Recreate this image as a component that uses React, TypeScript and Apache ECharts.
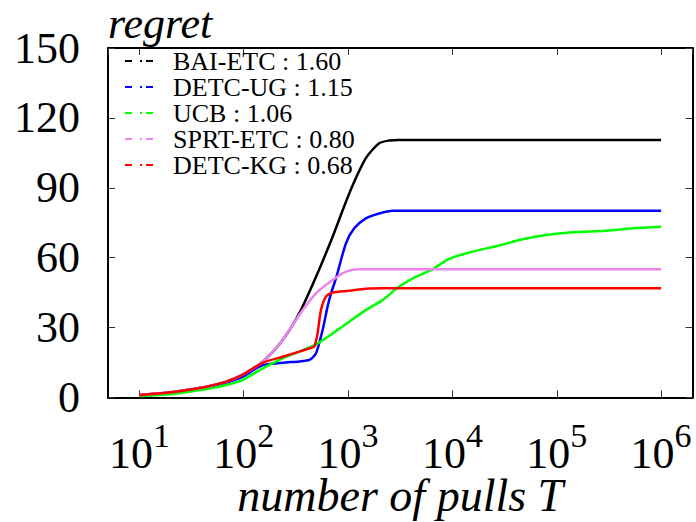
import React, { useEffect, useRef } from 'react';
import * as echarts from 'echarts';

const FONT = "'Liberation Serif', 'Times New Roman', serif";

const seriesNames = ['BAI-ETC : 1.60', 'DETC-UG : 1.15', 'UCB : 1.06', 'SPRT-ETC : 0.80', 'DETC-KG : 0.68'];
const seriesColors = ['#000000', '#0000ff', '#00ff00', '#ee82ee', '#ff0000'];

// BAI-ETC
const baiT = [10, 18, 28, 44, 68, 97, 152, 236, 341, 493, 711, 1026, 1480, 1985, 2477, 3000, 1000000];
const baiY = [1.1, 2.0, 3.2, 4.6, 6.8, 9.7, 15.4, 24.7, 36.2, 51.8, 69.0, 87.6, 102.7, 109.1, 110.3, 110.5, 110.5];

// DETC-UG
const ugT = [10, 18, 28, 44, 68, 97, 152, 236, 341, 425, 493, 570, 636, 690, 765, 955, 1145, 1480, 1985, 2670, 1000000];
const ugY = [1.0, 1.8, 2.9, 4.3, 6.4, 8.9, 13.9, 14.9, 15.5, 16.1, 19.0, 29.0, 39.0, 45.0, 51.1, 66.2, 72.6, 76.9, 79.0, 80.2, 80.2];

// UCB
const ucbT = [10, 18, 28, 44, 68, 97, 152, 236, 341, 493, 711, 1026, 1480, 2140, 3090, 4460, 6440, 9310, 15500, 28000, 47000, 79000, 142000, 295000, 535000, 1000000];
const ucbY = [0.6, 1.3, 2.3, 3.6, 5.4, 7.5, 12.5, 16.8, 19.7, 22.8, 27.5, 32.5, 37.6, 41.8, 47.6, 51.8, 55.0, 59.5, 62.6, 65.2, 67.9, 69.7, 70.9, 71.6, 72.6, 73.3];

// SPRT-ETC
const sprtT = [10, 18, 28, 44, 68, 97, 152, 236, 341, 493, 711, 955, 1280, 1000000];
const sprtY = [1.1, 2.0, 3.2, 4.6, 6.8, 9.7, 15.4, 24.7, 35.5, 44.7, 50.4, 54.0, 55.0, 55.0];

// DETC-KG
const kgT = [10, 18, 28, 44, 68, 97, 152, 236, 341, 457, 475, 510, 550, 614, 711, 1026, 1480, 2140, 1000000];
const kgY = [1.0, 2.0, 3.1, 4.6, 6.8, 9.7, 14.9, 17.5, 19.7, 21.5, 21.8, 27.5, 37.6, 43.3, 45.0, 45.8, 46.7, 46.9, 46.9];

const seriesT = [baiT, ugT, ucbT, sprtT, kgT];
const seriesY = [baiY, ugY, ucbY, sprtY, kgY];

const xMin = 5;
const xMax = 2000000;
const yMin = 0;
const yMax = 150;
const yStep = 30;

const xTitle = 'number of pulls T';
const yTitle = 'regret';

// dash-dot legend sample: dash, dot, dash
const legendIcon = 'path://M0,0h7v2h-7z M15,0h2v2h-2z M21,0h7v2h-7z';

export default function App() {
  const ref = useRef<HTMLDivElement>(null);

  useEffect(() => {
    const chart = echarts.init(ref.current as HTMLDivElement, null, { renderer: 'svg' });

    const axisLine = { show: true, onZero: false, lineStyle: { color: '#000', width: 2 } };
    const axisTick = { show: true, inside: true, length: 7, lineStyle: { color: '#333', width: 1 } };

    const xBase = {
      type: 'log' as const,
      logBase: 10,
      min: xMin,
      max: xMax,
      axisLine,
      axisTick,
      splitLine: { show: false },
      minorTick: { show: false },
    };
    const yBase = {
      type: 'value' as const,
      min: yMin,
      max: yMax,
      interval: yStep,
      axisLine,
      axisTick,
      splitLine: { show: false },
    };

    const option: any = {
      animation: false,
      backgroundColor: '#fff',
      textStyle: { fontFamily: FONT },
      title: {
        text: yTitle,
        left: 108,
        top: 1,
        padding: 0,
        textStyle: { fontFamily: FONT, fontStyle: 'italic', fontWeight: 'normal', fontSize: 44, color: '#000' },
      },
      grid: { left: 108, right: 3.5, top: 48, bottom: 124.5, containLabel: false, outerBoundsMode: 'none' },
      legend: {
        data: seriesNames.map((name) => ({ name, icon: legendIcon })),
        orient: 'vertical',
        left: 125,
        top: 48,
        padding: 0,
        itemGap: 0,
        itemWidth: 28,
        itemHeight: 2,
        selectedMode: false,
        textStyle: { fontFamily: FONT, fontSize: 26, lineHeight: 26, color: '#000', padding: [0, 0, 0, 15] },
      },
      xAxis: [
        {
          ...xBase,
          position: 'bottom',
          name: xTitle,
          nameLocation: 'middle',
          nameGap: 75,
          nameMoveOverlap: false,
          nameTextStyle: { fontFamily: FONT, fontStyle: 'italic', fontSize: 46, color: '#000' },
          axisLabel: {
            show: true,
            showMinLabel: false,
            showMaxLabel: false,
            margin: 34,
            formatter: (v: number) => {
              const e = Math.round(Math.log10(v));
              return `{b|10}{s|${e}}`;
            },
            rich: {
              b: { fontFamily: FONT, fontSize: 44, lineHeight: 44, color: '#000' },
              s: { fontFamily: FONT, fontSize: 34, lineHeight: 34, color: '#000', padding: [0, 0, 36, 0] },
            },
          },
        },
        {
          ...xBase,
          position: 'top',
          axisLabel: { show: false },
        },
      ],
      yAxis: [
        {
          ...yBase,
          position: 'left',
          axisLabel: { fontFamily: FONT, fontSize: 44, color: '#000', margin: 28 },
        },
        {
          ...yBase,
          position: 'right',
          axisLabel: { show: false },
        },
      ],
      series: seriesNames.map((name, i) => ({
        name,
        type: 'line',
        xAxisIndex: 0,
        yAxisIndex: 0,
        data: seriesT[i].map((t, j) => [t, seriesY[i][j]]),
        symbol: 'none',
        smooth: 0.25,
        color: seriesColors[i],
        itemStyle: { color: seriesColors[i] },
        lineStyle: { color: seriesColors[i], width: 2.5 },
      })),
    };

    chart.setOption(option);
    return () => chart.dispose();
  }, []);

  return <div ref={ref} style={{ position: 'fixed', left: 0, top: 0, width: 696, height: 522 }} />;
}
